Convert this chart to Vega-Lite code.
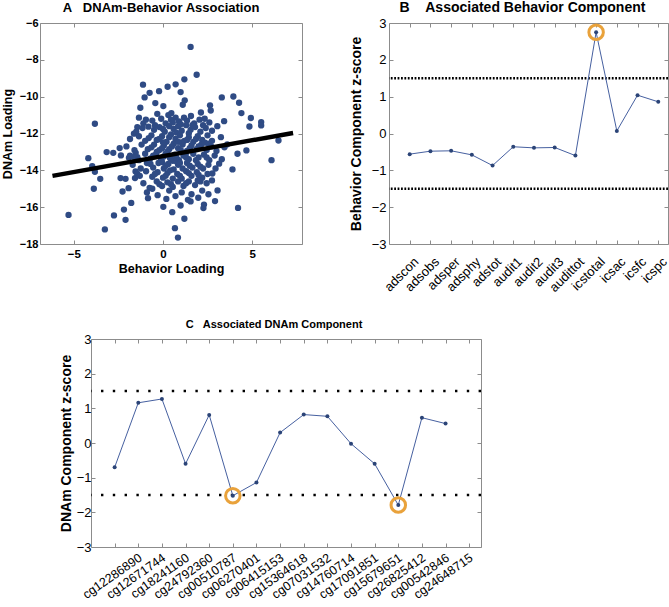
{
  "$schema": "https://vega.github.io/schema/vega-lite/v6.json",
  "padding": {"left": 0, "top": 0, "right": 0, "bottom": 0},
  "background": "white",
  "config": {
    "font": "Liberation Sans",
    "view": {"stroke": "#8c8c8c", "strokeWidth": 1},
    "axis": {"domain": false, "grid": false, "tickColor": "#8c8c8c", "tickSize": -4, "labelColor": "black", "titleColor": "black", "labelFont": "Liberation Sans", "titleFont": "Liberation Sans", "titleFontWeight": "bold"},
    "title": {"font": "Liberation Sans", "fontWeight": "bold", "fontSize": 13.5, "color": "black", "baseline": "alphabetic"}
  },
  "datasets": {
    "scatter": [
      {"behavior":1.55,"dnam":-7.30},{"behavior":1.89,"dnam":-8.81},{"behavior":1.20,"dnam":-9.06},{"behavior":0.71,"dnam":-9.33},{"behavior":-1.12,"dnam":-9.35},{"behavior":0.26,"dnam":-9.46},{"behavior":-0.75,"dnam":-9.79},{"behavior":-0.22,"dnam":-9.70},{"behavior":0.99,"dnam":-9.75},{"behavior":-1.03,"dnam":-10.04},{"behavior":1.22,"dnam":-10.20},{"behavior":1.11,"dnam":-10.44},{"behavior":0.02,"dnam":-10.51},{"behavior":-0.43,"dnam":-10.35},{"behavior":-1.27,"dnam":-10.60},{"behavior":3.30,"dnam":-10.04},{"behavior":3.95,"dnam":-9.99},{"behavior":4.27,"dnam":-10.33},{"behavior":2.64,"dnam":-10.47},{"behavior":2.68,"dnam":-10.75},{"behavior":2.13,"dnam":-10.86},{"behavior":4.40,"dnam":-10.89},{"behavior":0.47,"dnam":-10.89},{"behavior":-0.32,"dnam":-10.93},{"behavior":-1.35,"dnam":-11.14},{"behavior":-0.96,"dnam":-11.25},{"behavior":1.57,"dnam":-11.05},{"behavior":0.71,"dnam":-11.14},{"behavior":1.18,"dnam":-11.14},{"behavior":2.34,"dnam":-11.20},{"behavior":3.43,"dnam":-11.33},{"behavior":4.93,"dnam":-11.16},{"behavior":4.85,"dnam":-11.62},{"behavior":5.51,"dnam":-11.38},{"behavior":5.51,"dnam":-11.56},{"behavior":-3.82,"dnam":-11.47},{"behavior":-1.44,"dnam":-11.65},{"behavior":-0.82,"dnam":-11.63},{"behavior":-1.63,"dnam":-12.01},{"behavior":6.48,"dnam":-12.38},{"behavior":6.09,"dnam":-13.45},{"behavior":4.18,"dnam":-13.10},{"behavior":4.68,"dnam":-12.92},{"behavior":3.90,"dnam":-13.95},{"behavior":4.21,"dnam":-16.04},{"behavior":3.61,"dnam":-12.59},{"behavior":-4.19,"dnam":-13.34},{"behavior":-3.97,"dnam":-13.77},{"behavior":-3.82,"dnam":-14.08},{"behavior":-3.52,"dnam":-14.46},{"behavior":-3.88,"dnam":-15.00},{"behavior":-5.30,"dnam":-16.42},{"behavior":-3.26,"dnam":-17.21},{"behavior":-2.75,"dnam":-16.45},{"behavior":-2.10,"dnam":-16.69},{"behavior":-2.19,"dnam":-16.13},{"behavior":-1.78,"dnam":-15.77},{"behavior":-2.27,"dnam":-15.15},{"behavior":-1.93,"dnam":-14.97},{"behavior":-2.38,"dnam":-14.42},{"behavior":-2.10,"dnam":-14.46},{"behavior":-1.57,"dnam":-14.42},{"behavior":-3.16,"dnam":-13.01},{"behavior":-2.79,"dnam":-13.05},{"behavior":-2.43,"dnam":-12.79},{"behavior":-2.36,"dnam":-13.19},{"behavior":-1.91,"dnam":-13.32},{"behavior":-1.54,"dnam":-14.06},{"behavior":-0.84,"dnam":-15.51},{"behavior":-0.60,"dnam":-15.00},{"behavior":0.02,"dnam":-15.98},{"behavior":0.19,"dnam":-15.55},{"behavior":0.52,"dnam":-16.27},{"behavior":0.67,"dnam":-17.14},{"behavior":0.84,"dnam":-17.65},{"behavior":1.20,"dnam":-16.63},{"behavior":0.99,"dnam":-15.91},{"behavior":1.40,"dnam":-15.60},{"behavior":1.55,"dnam":-15.69},{"behavior":1.98,"dnam":-15.49},{"behavior":2.30,"dnam":-15.86},{"behavior":2.27,"dnam":-16.05},{"behavior":2.92,"dnam":-15.67},{"behavior":3.06,"dnam":-15.09},{"behavior":2.77,"dnam":-14.17},{"behavior":3.15,"dnam":-13.64},
      {"behavior":-1.53,"dnam":-13.05},{"behavior":-1.44,"dnam":-13.29},{"behavior":-1.44,"dnam":-14.2},{"behavior":-1.61,"dnam":-13.29},
      {"behavior":-0.6,"dnam":-11.3},{"behavior":-0.1,"dnam":-11.2},{"behavior":0.3,"dnam":-11.0},{"behavior":0.45,"dnam":-11.25},{"behavior":0.9,"dnam":-11.35},{"behavior":1.35,"dnam":-11.3},{"behavior":1.75,"dnam":-11.45},{"behavior":2.05,"dnam":-11.25},{"behavior":2.6,"dnam":-11.4},{"behavior":0.15,"dnam":-11.45},{"behavior":-1.1,"dnam":-11.45},
      {"behavior":-1.5,"dnam":-11.9},{"behavior":-1.15,"dnam":-11.7},{"behavior":-0.5,"dnam":-11.8},{"behavior":-0.2,"dnam":-11.65},{"behavior":0.1,"dnam":-11.9},{"behavior":0.35,"dnam":-11.6},{"behavior":0.6,"dnam":-11.75},{"behavior":0.85,"dnam":-11.6},{"behavior":1.05,"dnam":-11.85},{"behavior":1.3,"dnam":-11.55},{"behavior":1.55,"dnam":-11.8},{"behavior":1.8,"dnam":-11.65},{"behavior":2.1,"dnam":-11.9},{"behavior":2.4,"dnam":-11.7},{"behavior":2.75,"dnam":-11.85},{"behavior":3.05,"dnam":-11.6},{"behavior":0.75,"dnam":-11.95},{"behavior":1.45,"dnam":-11.98},
      {"behavior":-1.85,"dnam":-12.3},{"behavior":-1.35,"dnam":-12.15},{"behavior":-1.0,"dnam":-12.4},{"behavior":-0.65,"dnam":-12.1},{"behavior":-0.35,"dnam":-12.35},{"behavior":-0.05,"dnam":-12.15},{"behavior":0.2,"dnam":-12.45},{"behavior":0.45,"dnam":-12.05},{"behavior":0.7,"dnam":-12.3},{"behavior":0.95,"dnam":-12.1},{"behavior":1.2,"dnam":-12.4},{"behavior":1.45,"dnam":-12.2},{"behavior":1.7,"dnam":-12.45},{"behavior":1.95,"dnam":-12.15},{"behavior":2.2,"dnam":-12.35},{"behavior":2.5,"dnam":-12.1},{"behavior":2.75,"dnam":-12.4},{"behavior":3.25,"dnam":-12.2},{"behavior":0.0,"dnam":-12.48},{"behavior":1.05,"dnam":-12.48},
      {"behavior":-2.05,"dnam":-12.7},{"behavior":-1.6,"dnam":-12.9},{"behavior":-1.2,"dnam":-12.6},{"behavior":-0.85,"dnam":-12.85},{"behavior":-0.5,"dnam":-12.6},{"behavior":-0.2,"dnam":-12.9},{"behavior":0.05,"dnam":-12.65},{"behavior":0.35,"dnam":-12.85},{"behavior":0.6,"dnam":-12.55},{"behavior":0.85,"dnam":-12.8},{"behavior":1.1,"dnam":-12.6},{"behavior":1.35,"dnam":-12.95},{"behavior":1.6,"dnam":-12.65},{"behavior":1.9,"dnam":-12.85},{"behavior":2.15,"dnam":-12.6},{"behavior":2.45,"dnam":-12.9},{"behavior":2.7,"dnam":-12.7},{"behavior":3.0,"dnam":-12.95},{"behavior":3.45,"dnam":-12.75},{"behavior":0.25,"dnam":-12.98},{"behavior":-0.35,"dnam":-13.0},
      {"behavior":-1.85,"dnam":-13.2},{"behavior":-1.35,"dnam":-13.45},{"behavior":-1.0,"dnam":-13.1},{"behavior":-0.7,"dnam":-13.35},{"behavior":-0.4,"dnam":-13.15},{"behavior":-0.1,"dnam":-13.4},{"behavior":0.15,"dnam":-13.1},{"behavior":0.4,"dnam":-13.35},{"behavior":0.65,"dnam":-13.15},{"behavior":0.9,"dnam":-13.45},{"behavior":1.15,"dnam":-13.2},{"behavior":1.45,"dnam":-13.4},{"behavior":1.7,"dnam":-13.1},{"behavior":2.0,"dnam":-13.3},{"behavior":2.3,"dnam":-13.15},{"behavior":2.6,"dnam":-13.45},{"behavior":2.9,"dnam":-13.2},{"behavior":3.3,"dnam":-13.4},{"behavior":0.55,"dnam":-13.48},{"behavior":1.3,"dnam":-13.05},
      {"behavior":-1.7,"dnam":-13.7},{"behavior":-1.25,"dnam":-13.9},{"behavior":-0.9,"dnam":-13.6},{"behavior":-0.55,"dnam":-13.85},{"behavior":-0.25,"dnam":-13.6},{"behavior":0.05,"dnam":-13.9},{"behavior":0.3,"dnam":-13.65},{"behavior":0.6,"dnam":-13.95},{"behavior":0.85,"dnam":-13.7},{"behavior":1.1,"dnam":-13.9},{"behavior":1.35,"dnam":-13.6},{"behavior":1.65,"dnam":-13.85},{"behavior":1.95,"dnam":-13.65},{"behavior":2.25,"dnam":-13.9},{"behavior":2.55,"dnam":-13.7},{"behavior":2.95,"dnam":-13.9},{"behavior":-0.05,"dnam":-13.55},{"behavior":0.75,"dnam":-13.52},
      {"behavior":-1.3,"dnam":-14.3},{"behavior":-0.95,"dnam":-14.05},{"behavior":-0.6,"dnam":-14.35},{"behavior":-0.3,"dnam":-14.1},{"behavior":0.0,"dnam":-14.4},{"behavior":0.25,"dnam":-14.15},{"behavior":0.55,"dnam":-14.45},{"behavior":0.8,"dnam":-14.2},{"behavior":1.05,"dnam":-14.45},{"behavior":1.3,"dnam":-14.05},{"behavior":1.6,"dnam":-14.3},{"behavior":1.9,"dnam":-14.1},{"behavior":2.2,"dnam":-14.4},{"behavior":2.5,"dnam":-14.2},{"behavior":0.4,"dnam":-14.0},
      {"behavior":-1.1,"dnam":-14.7},{"behavior":-0.75,"dnam":-14.95},{"behavior":-0.35,"dnam":-14.6},{"behavior":-0.05,"dnam":-14.85},{"behavior":0.25,"dnam":-14.65},{"behavior":0.55,"dnam":-14.9},{"behavior":0.85,"dnam":-14.6},{"behavior":1.15,"dnam":-14.85},{"behavior":1.45,"dnam":-14.6},{"behavior":1.8,"dnam":-14.8},{"behavior":2.1,"dnam":-14.6},{"behavior":2.45,"dnam":-14.7},{"behavior":2.75,"dnam":-14.55},
      {"behavior":-0.9,"dnam":-15.2},{"behavior":-0.3,"dnam":-15.35},{"behavior":0.35,"dnam":-15.1},{"behavior":0.7,"dnam":-15.4},{"behavior":1.05,"dnam":-15.2},{"behavior":1.6,"dnam":-15.3},{"behavior":2.2,"dnam":-15.1},{"behavior":2.55,"dnam":-15.3},
      {"behavior":-0.45,"dnam":-11.55},{"behavior":0.0,"dnam":-11.75},{"behavior":0.55,"dnam":-11.4},{"behavior":1.0,"dnam":-11.5},{"behavior":1.65,"dnam":-11.55},{"behavior":2.25,"dnam":-11.55},
      {"behavior":-0.8,"dnam":-12.25},{"behavior":-0.2,"dnam":-12.3},{"behavior":0.35,"dnam":-12.2},{"behavior":0.85,"dnam":-12.45},{"behavior":1.35,"dnam":-12.35},{"behavior":1.85,"dnam":-12.3},{"behavior":2.35,"dnam":-12.5},
      {"behavior":-0.65,"dnam":-12.75},{"behavior":-0.05,"dnam":-12.8},{"behavior":0.5,"dnam":-12.7},{"behavior":1.0,"dnam":-12.9},{"behavior":1.5,"dnam":-12.8},{"behavior":2.0,"dnam":-12.7},{"behavior":2.55,"dnam":-12.55},
      {"behavior":-0.55,"dnam":-13.2},{"behavior":0.05,"dnam":-13.25},{"behavior":0.75,"dnam":-13.3},{"behavior":1.3,"dnam":-13.3},{"behavior":1.85,"dnam":-13.45},{"behavior":2.45,"dnam":-13.3},
      {"behavior":-0.7,"dnam":-13.65},{"behavior":0.15,"dnam":-13.75},{"behavior":0.95,"dnam":-13.6},{"behavior":1.5,"dnam":-13.75},{"behavior":2.1,"dnam":-13.8},
      {"behavior":-0.45,"dnam":-14.2},{"behavior":0.15,"dnam":-14.3},{"behavior":0.95,"dnam":-14.3},{"behavior":1.45,"dnam":-14.15},{"behavior":2.0,"dnam":-14.25},
      {"behavior":-0.2,"dnam":-14.75},{"behavior":0.45,"dnam":-14.75},{"behavior":1.3,"dnam":-14.7},{"behavior":1.95,"dnam":-14.55}
    ],
    "fit": [{"behavior":-6.2,"dnam":-14.3},{"behavior":7.3,"dnam":-11.97}],
    "behaviorComponent": [
      {"measure":"adscon","z":-0.56,"flag":false},{"measure":"adsobs","z":-0.48,"flag":false},{"measure":"adsper","z":-0.47,"flag":false},{"measure":"adsphy","z":-0.58,"flag":false},{"measure":"adstot","z":-0.87,"flag":false},{"measure":"audit1","z":-0.36,"flag":false},{"measure":"audit2","z":-0.39,"flag":false},{"measure":"audit3","z":-0.38,"flag":false},{"measure":"audittot","z":-0.60,"flag":false},{"measure":"icstotal","z":2.75,"flag":true},{"measure":"icsac","z":0.07,"flag":false},{"measure":"icsfc","z":1.04,"flag":false},{"measure":"icspc","z":0.86,"flag":false}
    ],
    "dnamComponent": [
      {"cpg":"cg12286890","z":-0.70,"flag":false},{"cpg":"cg12671744","z":1.16,"flag":false},{"cpg":"cg18241160","z":1.27,"flag":false},{"cpg":"cg24792360","z":-0.60,"flag":false},{"cpg":"cg00510787","z":0.81,"flag":false},{"cpg":"cg06270401","z":-1.52,"flag":true},{"cpg":"cg06415153","z":-1.14,"flag":false},{"cpg":"cg15364618","z":0.30,"flag":false},{"cpg":"cg07031532","z":0.82,"flag":false},{"cpg":"cg14760714","z":0.77,"flag":false},{"cpg":"cg17091851","z":-0.02,"flag":false},{"cpg":"cg15679651","z":-0.60,"flag":false},{"cpg":"cg26825412","z":-1.79,"flag":true},{"cpg":"cg00542846","z":0.73,"flag":false},{"cpg":"cg24648715","z":0.56,"flag":false}
    ],
    "thresholds": [{"z":1.5},{"z":-1.5}]
  },
  "spacing": 23,
  "vconcat": [
    {
      "spacing": 45,
      "hconcat": [
        {
          "width": 262, "height": 221,
          "title": {"text": "A\u00a0\u00a0\u00a0DNAm-Behavior Association", "fontSize": 13, "offset": 2, "dx": -10},
          "layer": [
            {
              "data": {"name": "scatter"},
              "mark": {"type": "circle", "size": 40, "opacity": 1, "color": "#2F4B84"},
              "encoding": {
                "x": {"field": "behavior", "type": "quantitative", "scale": {"domain": [-6.9, 7.8], "nice": false, "zero": false},
                      "axis": {"values": [-5, 0, 5], "title": "Behavior Loading", "labelFontWeight": "bold", "labelFontSize": 11.5, "titleFontSize": 12.5, "labelPadding": 8, "titlePadding": 3}},
                "y": {"field": "dnam", "type": "quantitative", "scale": {"domain": [-18, -6], "nice": false, "zero": false},
                      "axis": {"values": [-18, -16, -14, -12, -10, -8, -6], "title": "DNAm Loading", "labelFontWeight": "bold", "labelFontSize": 11, "titleFontSize": 12.5, "labelPadding": 6, "titlePadding": 5}}
              }
            },
            {
              "data": {"name": "fit"},
              "mark": {"type": "line", "color": "black", "strokeWidth": 4.5},
              "encoding": {
                "x": {"field": "behavior", "type": "quantitative", "axis": {"orient": "top", "values": [-5, 0, 5], "labels": false, "title": null}},
                "y": {"field": "dnam", "type": "quantitative", "axis": {"orient": "right", "values": [-18, -16, -14, -12, -10, -8, -6], "labels": false, "title": null}}
              }
            }
          ],
          "resolve": {"axis": {"x": "independent", "y": "independent"}}
        },
        {
          "width": 279, "height": 221,
          "title": {"text": "B\u00a0\u00a0\u00a0\u00a0Associated Behavior Component", "fontSize": 14, "offset": 2, "dx": -6},
          "data": {"name": "behaviorComponent"},
          "layer": [
            {
              "data": {"name": "thresholds"},
              "mark": {"type": "rule", "color": "black", "strokeWidth": 2.5, "strokeDash": [1.8, 1.6]},
              "encoding": {"y": {"field": "z", "type": "quantitative", "axis": null}}
            },
            {
              "mark": {"type": "line", "color": "#4660A0", "strokeWidth": 1},
              "encoding": {
                "x": {"field": "measure", "type": "nominal", "sort": null,
                      "scale": {"type": "point", "domain": ["adscon","adsobs","adsper","adsphy","adstot","audit1","audit2","audit3","audittot","icstotal","icsac","icsfc","icspc"], "padding": 0.735, "align": 0.68},
                      "axis": {"title": null, "labelAngle": -45, "labelAlign": "right", "labelBaseline": "top", "labelFontSize": 13, "labelPadding": 15, "labelOffset": 2}},
                "y": {"field": "z", "type": "quantitative", "scale": {"domain": [-3, 3], "nice": false},
                      "axis": {"values": [-3, -2, -1, 0, 1, 2, 3], "title": "Behavior Component z-score", "labelFontSize": 13, "titleFontSize": 14, "labelPadding": 7, "titlePadding": 8}}
              }
            },
            {
              "mark": {"type": "point", "filled": true, "size": 16, "color": "#2B4477", "opacity": 1},
              "encoding": {
                "x": {"field": "measure", "type": "nominal", "sort": null, "axis": {"orient": "top", "labels": false, "title": null}},
                "y": {"field": "z", "type": "quantitative", "axis": {"orient": "right", "values": [-3, -2, -1, 0, 1, 2, 3], "labels": false, "title": null}}
              }
            },
            {
              "transform": [{"filter": "datum.flag"}],
              "mark": {"type": "point", "filled": false, "size": 210, "stroke": "#E9A23B", "strokeWidth": 3, "opacity": 1},
              "encoding": {
                "x": {"field": "measure", "type": "nominal", "sort": null, "axis": null},
                "y": {"field": "z", "type": "quantitative", "axis": null}
              }
            }
          ],
          "resolve": {"axis": {"x": "independent", "y": "independent"}}
        }
      ]
    },
    {
      "spacing": 17,
      "hconcat": [
        {
          "width": 1, "height": 208,
          "view": {"stroke": null},
          "data": {"values": []},
          "mark": "point",
          "encoding": {}
        },
        {
          "width": 390, "height": 208,
          "title": {"text": "C\u00a0\u00a0\u00a0Associated DNAm Component", "fontSize": 11, "offset": 3, "dx": -12},
          "data": {"name": "dnamComponent"},
          "layer": [
            {
              "data": {"name": "thresholds"},
              "mark": {"type": "rule", "color": "black", "strokeWidth": 2.5, "strokeDash": [2.4, 9.4]},
              "encoding": {"y": {"field": "z", "type": "quantitative", "axis": null}}
            },
            {
              "mark": {"type": "line", "color": "#4660A0", "strokeWidth": 1},
              "encoding": {
                "x": {"field": "cpg", "type": "nominal", "sort": null,
                      "scale": {"type": "point", "domain": ["cg12286890","cg12671744","cg18241160","cg24792360","cg00510787","cg06270401","cg06415153","cg15364618","cg07031532","cg14760714","cg17091851","cg15679651","cg26825412","cg00542846","cg24648715"," "], "padding": 0.75, "align": 0.667},
                      "axis": {"title": null, "labelAngle": -35, "labelAlign": "right", "labelBaseline": "top", "labelFontSize": 12.5, "labelPadding": 8, "labelOffset": 22}},
                "y": {"field": "z", "type": "quantitative", "scale": {"domain": [-3, 3], "nice": false},
                      "axis": {"values": [-3, -2, -1, 0, 1, 2, 3], "title": "DNAm Component z-score", "labelFontSize": 13, "titleFontSize": 14, "labelPadding": 4, "titlePadding": 3}}
              }
            },
            {
              "mark": {"type": "point", "filled": true, "size": 16, "color": "#2B4477", "opacity": 1},
              "encoding": {
                "x": {"field": "cpg", "type": "nominal", "sort": null, "axis": {"orient": "top", "labels": false, "title": null}},
                "y": {"field": "z", "type": "quantitative", "axis": {"orient": "right", "values": [-3, -2, -1, 0, 1, 2, 3], "labels": false, "title": null}}
              }
            },
            {
              "transform": [{"filter": "datum.flag"}],
              "mark": {"type": "point", "filled": false, "size": 210, "stroke": "#E9A23B", "strokeWidth": 3, "opacity": 1},
              "encoding": {
                "x": {"field": "cpg", "type": "nominal", "sort": null, "axis": null},
                "y": {"field": "z", "type": "quantitative", "axis": null}
              }
            }
          ],
          "resolve": {"axis": {"x": "independent", "y": "independent"}}
        }
      ]
    }
  ]
}
